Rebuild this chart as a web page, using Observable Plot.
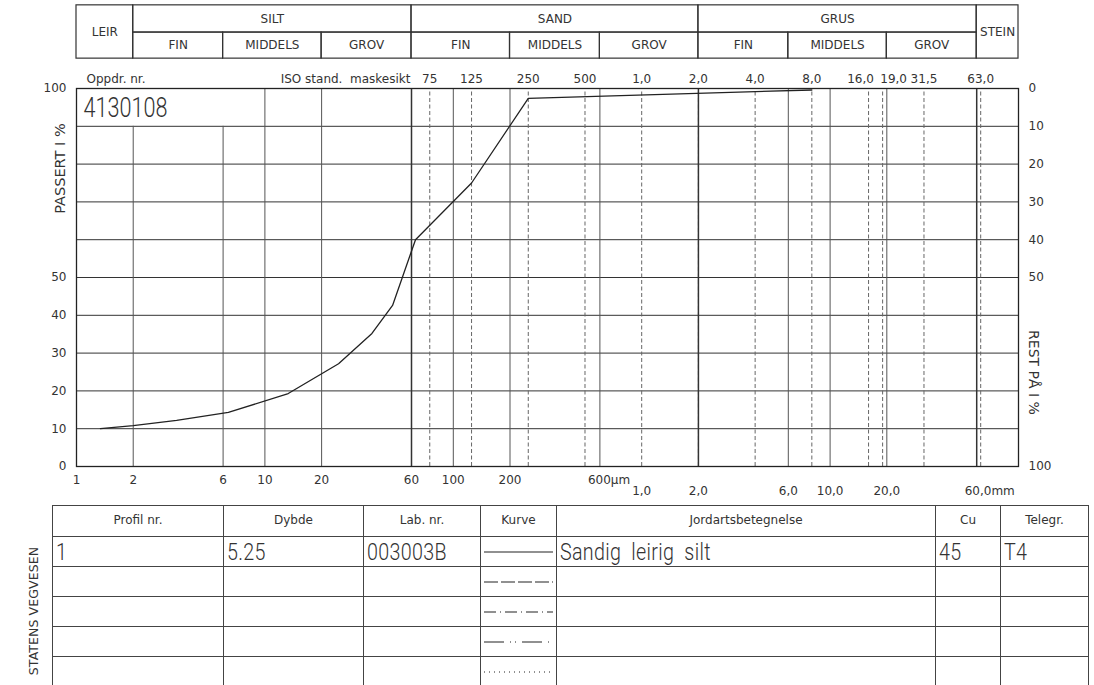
<!DOCTYPE html>
<html>
<head>
<meta charset="utf-8">
<script src="https://cdn.jsdelivr.net/npm/d3@7"></script>
<script src="https://cdn.jsdelivr.net/npm/@observablehq/plot@0.6"></script>
<style>
  body { margin: 0; background: #fff; }
  #wrap { position: relative; width: 1094px; height: 685px; overflow: hidden; background: #fff;
          font-family: "DejaVu Sans", sans-serif; color: #333; }
  #chart { position: absolute; left: 0; top: 0; }
  #tbl { position: absolute; left: 52px; top: 505px; border-collapse: collapse; table-layout: fixed; width: 1036px; }
  #tbl td { border: 1px solid #444; padding: 0 0 0 3px; height: 29px; overflow: hidden; white-space: nowrap;
            font-family: Roboto, "DejaVu Sans Condensed", sans-serif; font-weight: 300; font-size: 24px; color: #333; line-height: 28px; }
  #tbl td span { display: inline-block; transform: scaleX(0.82); transform-origin: 0 50%; word-spacing: 6px; letter-spacing: 0.4px; }
  #tbl tr.head td { font-family: "DejaVu Sans", sans-serif; font-weight: normal; font-size: 12px; text-align: center; height: 28px; padding: 0; line-height: 24px; vertical-align: top; padding-top: 2px; }
  #tbl td.kurve { padding: 0; }
  #tbl td.kurve svg { display: block; }
  #org { position: absolute; left: 33px; top: 611px; transform: translate(-50%, -50%) rotate(-90deg);
         font-size: 12.5px; letter-spacing: 0.1px; white-space: nowrap; color: #333; }
</style>
</head>
<body>
<div id="wrap">
  <div id="chart"></div>
  <table id="tbl"></table>
  <div id="org"></div>
</div>
<script>
// ---------- data ----------
const curveSize    = [1.34, 2, 3.4, 6.4, 13.3, 24.6, 37, 47.6, 63, 125, 250, 8000];   // µm
const curvePassing = [10, 10.8, 12.2, 14.3, 19.3, 27.2, 35.2, 42.6, 60, 75, 97.4, 99.6]; // %

const sieveSizes  = [75, 125, 250, 500, 1000, 2000, 4000, 8000, 16000, 19000, 31500, 63000];
const sieveLabels = ["75", "125", "250", "500", "1,0", "2,0", "4,0", "8,0", "16,0", "19,0", "31,5", "63,0"];

const classBounds = [1, 2, 60, 2000, 60000, 100000];
const classNames  = ["LEIR", "SILT", "SAND", "GRUS", "STEIN"];
const subBounds   = [2, 6, 20, 60, 200, 600, 2000, 6000, 20000, 60000];
const subNames    = ["FIN", "MIDDELS", "GROV", "FIN", "MIDDELS", "GROV", "FIN", "MIDDELS", "GROV"];

const gridFull    = [10, 20, 100, 200, 600, 6000, 10000, 20000];
const gridMain    = [60, 2000, 60000];
const gridPartial = [2, 6];
const yGrid       = [10, 20, 30, 40, 50, 60, 70, 80, 90];

const leftTicks  = [0, 10, 20, 30, 40, 50, 100];
const rightTicks = [0, 10, 20, 30, 40, 50, 100];

const umTickValues = [1, 2, 6, 10, 20, 60, 100, 200];
const umTickLabels = ["1", "2", "6", "10", "20", "60", "100", "200"];
const mmTickValues = [1000, 2000, 6000, 10000, 20000];
const mmTickLabels = ["1,0", "2,0", "6,0", "10,0", "20,0"];
const umEndValue = 600,   umEndLabel = "600\u00b5m";
const mmEndValue = 60000, mmEndLabel = "60,0mm";

const oppdrNr = "4130108";

const tableHeaders = ["Profil nr.", "Dybde", "Lab. nr.", "Kurve", "Jordartsbetegnelse", "Cu", "Telegr."];
const profilNr   = ["1", "", "", "", ""];
const dybde      = ["5.25", "", "", "", ""];
const labNr      = ["003003B", "", "", "", ""];
const kurveDash  = ["none", "14,3", "12,4,1,4", "20,6,1,4,1,6", "1,4"];
const jordart    = ["Sandig leirig silt", "", "", "", ""];
const cu         = ["45", "", "", "", ""];
const telegr     = ["T4", "", "", "", ""];
const orgName = "STATENS VEGVESEN";

// ---------- derived tables ----------
const curve = curveSize.map((d, i) => ({d, p: curvePassing[i]}));
const sieves = sieveSizes.map((s, i) => ({s, t: sieveLabels[i]}));
const classCells = classNames.map((n, i) => ({n, a: classBounds[i], b: classBounds[i + 1], span: n === "LEIR" || n === "STEIN"}));
const subCells = subNames.map((n, i) => ({n, a: subBounds[i], b: subBounds[i + 1]}));
const umTicks = umTickValues.map((v, i) => ({v, t: umTickLabels[i]}));
const mmTicks = mmTickValues.map((v, i) => ({v, t: mmTickLabels[i]}));

// header band levels in y-scale units (above 100 %)
const hTop = 122, hMid = 114.8, hBot = 107.9;
const FONT = "'DejaVu Sans', sans-serif";
const THIN = "Roboto, 'DejaVu Sans Condensed', sans-serif";
const gm = d => Math.sqrt(d.a * d.b);

const chart = Plot.plot({
  width: 1094, height: 500,
  marginLeft: 76, marginRight: 76, marginTop: 88, marginBottom: 34,
  x: {type: "log", domain: [1, 100000], axis: null},
  y: {domain: [0, 100], axis: null},
  style: {fontFamily: FONT, fontSize: "12px", color: "#333", background: "white", overflow: "visible"},
  marks: [
    // grid
    Plot.ruleY(yGrid, {stroke: "#333", strokeWidth: 1}),
    Plot.ruleX(gridPartial, {y1: 0, y2: 90, stroke: "#555", strokeWidth: 1}),
    Plot.ruleX(gridFull, {y1: 0, y2: 100, stroke: "#555", strokeWidth: 1}),
    Plot.ruleX(sieveSizes, {y1: 0, y2: 100, stroke: "#666", strokeWidth: 1, strokeDasharray: "4,2.5"}),
    Plot.ruleX(gridMain, {y1: 0, y2: 100, stroke: "#333", strokeWidth: 1.5}),
    Plot.frame({stroke: "#222", strokeWidth: 1.3}),

    // header table
    Plot.rect(classCells.filter(d => d.span), {x1: "a", x2: "b", y1: () => hBot, y2: () => hTop, fill: "none", stroke: "#333", strokeWidth: 1.2}),
    Plot.rect(classCells.filter(d => !d.span), {x1: "a", x2: "b", y1: () => hMid, y2: () => hTop, fill: "none", stroke: "#333", strokeWidth: 1.2}),
    Plot.rect(subCells, {x1: "a", x2: "b", y1: () => hBot, y2: () => hMid, fill: "none", stroke: "#333", strokeWidth: 1.2}),
    Plot.text(classCells.filter(d => d.span), {x: gm, y: () => (hBot + hTop) / 2, text: "n", fill: "#333", fontSize: 12}),
    Plot.text(classCells.filter(d => !d.span), {x: gm, y: () => (hMid + hTop) / 2, text: "n", fill: "#333", fontSize: 12}),
    Plot.text(subCells, {x: gm, y: () => (hBot + hMid) / 2, text: "n", fill: "#333", fontSize: 12}),

    // top labels
    Plot.text(["Oppdr. nr."], {frameAnchor: "top-left", dx: 10, dy: -9, textAnchor: "start", lineAnchor: "middle", fill: "#333", fontSize: 12}),
    Plot.text(["ISO stand.\u00a0\u00a0maskesikt"], {frameAnchor: "top-left", dx: 334, dy: -9, textAnchor: "end", lineAnchor: "middle", fill: "#333", fontSize: 12}),
    Plot.text(sieves.filter(d => d.s !== 16000 && d.s !== 19000), {x: "s", y: () => 100, text: "t", dy: -9, lineAnchor: "middle", fill: "#333", fontSize: 12}),
    Plot.text(sieves.filter(d => d.s === 16000), {x: "s", y: () => 100, text: "t", dy: -9, dx: -8, lineAnchor: "middle", fill: "#333", fontSize: 12}),
    Plot.text(sieves.filter(d => d.s === 19000), {x: "s", y: () => 100, text: "t", dy: -9, dx: 11, lineAnchor: "middle", fill: "#333", fontSize: 12}),
    Plot.text([oppdrNr], {frameAnchor: "top-left", dx: 7, dy: 20, textAnchor: "start", lineAnchor: "middle", fill: "#333", fontSize: 27, fontFamily: THIN, fontWeight: 300}),

    // axes
    Plot.axisY(leftTicks, {anchor: "left", tickSize: 0, tickPadding: 10, label: null, fontSize: 12, color: "#333"}),
    Plot.axisY(rightTicks.map(r => 100 - r), {anchor: "right", tickSize: 0, tickPadding: 10, tickFormat: d => String(100 - d), label: null, fontSize: 12, color: "#333"}),
    Plot.text(["PASSERT I %"], {frameAnchor: "top-left", dx: -16, dy: 80, rotate: -90, textAnchor: "middle", lineAnchor: "middle", fill: "#333", fontSize: 14.5}),
    Plot.text(["REST P\u00c5 I %"], {frameAnchor: "top-right", dx: 15, dy: 284, rotate: 90, textAnchor: "middle", lineAnchor: "middle", fill: "#333", fontSize: 14}),

    // bottom labels
    Plot.text(umTicks, {x: "v", y: () => 0, text: "t", dy: 14, lineAnchor: "middle", fill: "#333", fontSize: 12}),
    Plot.text([umEndLabel], {x: () => umEndValue, y: () => 0, dy: 14, dx: -12, textAnchor: "start", lineAnchor: "middle", fill: "#333", fontSize: 12}),
    Plot.text(mmTicks, {x: "v", y: () => 0, text: "t", dy: 25, lineAnchor: "middle", fill: "#333", fontSize: 12}),
    Plot.text([mmEndLabel], {x: () => mmEndValue, y: () => 0, dy: 25, dx: -12, textAnchor: "start", lineAnchor: "middle", fill: "#333", fontSize: 12}),

    // curve
    Plot.line(curve, {x: "d", y: "p", stroke: "#222", strokeWidth: 1.3})
  ]
});
// compress the large job number like the narrow technical font
chart.querySelectorAll("text").forEach(t => {
  if (t.textContent === oppdrNr) { t.setAttribute("textLength", "84"); t.setAttribute("lengthAdjust", "spacingAndGlyphs"); }
});
document.getElementById("chart").appendChild(chart);

// ---------- bottom table ----------
const colW = [171, 140, 117, 76, 379, 65, 88];
const tbl = document.getElementById("tbl");
const cg = document.createElement("colgroup");
colW.forEach(w => { const c = document.createElement("col"); c.style.width = w + "px"; cg.appendChild(c); });
tbl.appendChild(cg);
const hr = document.createElement("tr"); hr.className = "head";
tableHeaders.forEach(h => { const td = document.createElement("td"); td.textContent = h; hr.appendChild(td); });
tbl.appendChild(hr);
for (let i = 0; i < profilNr.length; i++) {
  const tr = document.createElement("tr");
  const vals = [profilNr[i], dybde[i], labNr[i], null, jordart[i], cu[i], telegr[i]];
  vals.forEach((v, j) => {
    const td = document.createElement("td");
    if (j === 3) {
      td.className = "kurve";
      td.innerHTML = `<svg width="76" height="29"><line x1="3" x2="72" y1="15" y2="15" stroke="#222" stroke-width="1.2" ${kurveDash[i] === "none" ? "" : `stroke-dasharray="${kurveDash[i]}"`}/></svg>`;
    } else if (v) {
      const s = document.createElement("span");
      s.textContent = v;
      td.appendChild(s);
    }
    tr.appendChild(td);
  });
  tbl.appendChild(tr);
}
document.getElementById("org").textContent = orgName;
</script>
</body>
</html>
